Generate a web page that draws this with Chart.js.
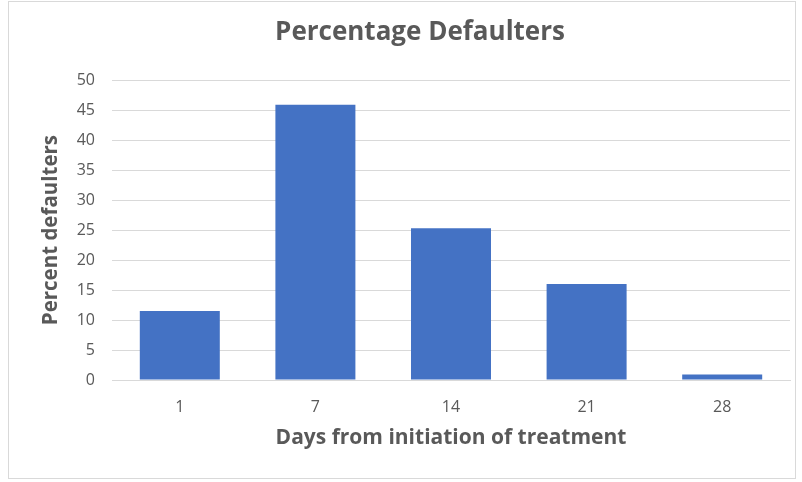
<!DOCTYPE html>
<html>
<head>
<meta charset="utf-8">
<script src="https://cdn.jsdelivr.net/npm/chart.js@4"></script>
<style>
  html, body { margin: 0; padding: 0; background: #ffffff; }
  #wrap { position: relative; width: 802px; height: 482px; }
  #frame { position: absolute; left: 8px; top: 1px; width: 788px; height: 478px; border: 1px solid #d9d9d9; box-sizing: border-box; pointer-events: none; }
  canvas { position: absolute; left: 0; top: 0; }
</style>
</head>
<body>
<div id="wrap">
  <canvas id="c" width="802" height="482"></canvas>
  <div id="frame"></div>
</div>
<script>
const categories = ['1', '7', '14', '21', '28'];
const percentDefaulters = [11.5, 45.9, 25.3, 16.0, 0.9];
const yTicks = [0, 5, 10, 15, 20, 25, 30, 35, 40, 45, 50];
const chartTitle = 'Percentage Defaulters';
const xTitle = 'Days from initiation of treatment';
const yTitle = 'Percent defaulters';

const FONT = '"Open Sans", Lato, sans-serif';
const TEXT = '#595959';

new Chart(document.getElementById('c'), {
  type: 'bar',
  data: {
    labels: categories,
    datasets: [{
      data: percentDefaulters,
      backgroundColor: '#4472C4',
      borderWidth: 0,
      barPercentage: 0.59,
      categoryPercentage: 1.0
    }]
  },
  options: {
    responsive: false,
    animation: false,
    layout: { padding: { left: 50, right: 12, top: 0, bottom: 24 } },
    plugins: {
      legend: { display: false },
      tooltip: { enabled: false },
      title: {
        display: true,
        text: chartTitle,
        color: TEXT,
        font: { family: FONT, size: 26, weight: 'bold' },
        padding: { top: 17, bottom: 32 }
      }
    },
    scales: {
      x: {
        grid: { display: false, drawTicks: false },
        border: { display: true, color: '#d9d9d9' },
        ticks: { color: TEXT, font: { family: FONT, size: 16 }, padding: 18 },
        title: {
          display: true, text: xTitle, color: TEXT,
          font: { family: FONT, size: 21, weight: 'bold' },
          padding: { top: 0, bottom: 7 }
        },
        afterFit: s => { s.height = 78; }
      },
      y: {
        min: 0, max: 50,
        afterBuildTicks: s => { s.ticks = yTicks.map(v => ({ value: v })); },
        grid: { color: '#d9d9d9', drawTicks: false },
        border: { display: false },
        ticks: { color: TEXT, font: { family: FONT, size: 16 }, padding: 17 },
        title: {
          display: true, text: yTitle, color: TEXT,
          font: { family: FONT, size: 20.5, weight: 'bold' },
          padding: { top: -11, bottom: 0 }
        },
        afterFit: s => { s.width = 62; }
      }
    }
  }
});
</script>
</body>
</html>
